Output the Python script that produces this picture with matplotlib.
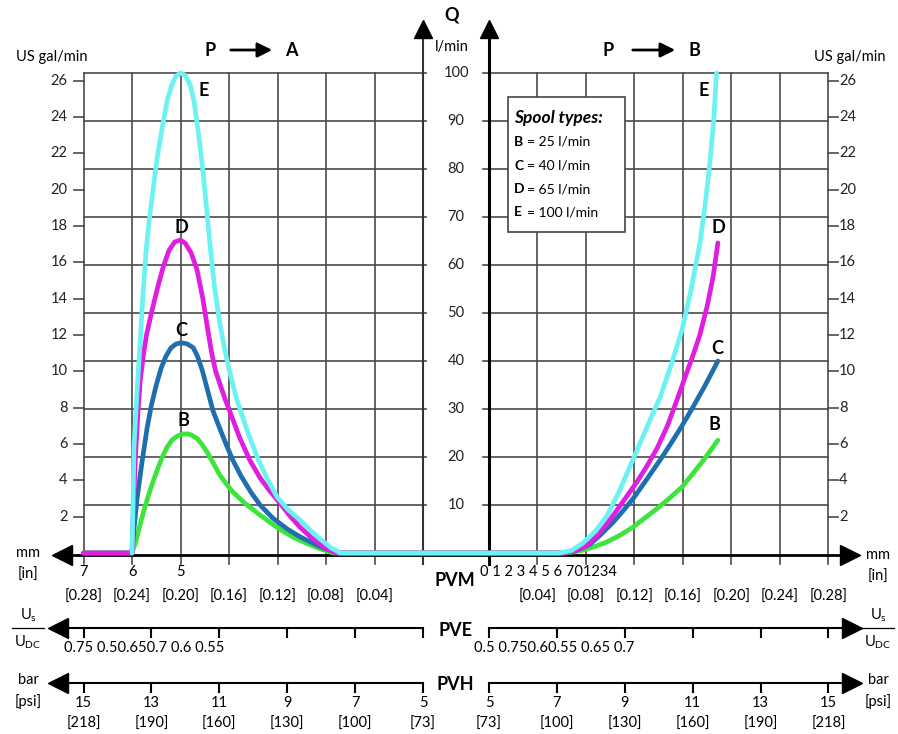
import numpy as np
import matplotlib.pyplot as plt
from matplotlib.patches import Rectangle

plt.rcParams['font.family'] = ['Lato', 'DejaVu Sans']

# ---- data: spool opening (mm) vs flow (l/min) ----
# P -> A side (left), mm from 7 towards 0
e_left_mm = [6.0, 5.98, 5.96, 5.9, 5.84, 5.78, 5.71, 5.65, 5.59, 5.48, 5.36, 5.27, 5.18, 5.1, 5.0,
             4.9, 4.8, 4.72, 4.66, 4.6, 4.54, 4.45, 4.38, 4.3, 4.2, 4.1, 4.0, 3.85, 3.63,
             3.4, 3.2, 3.01, 2.78, 2.54, 2.33, 2.12, 1.9, 1.71]
e_left_q = [0, 10, 22, 33, 42.6, 53, 63, 69, 73.7, 82.5, 89.6, 94.5, 97.5, 99.3, 100,
            99.5, 97.5, 94, 89.6, 85, 79.8, 70.5, 63, 55.5, 48.5, 43, 38.3, 32.3, 25.6,
            19.5, 15.2, 11.7, 9, 6.9, 4.8, 2.9, 1.1, 0]
d_left_mm = [7.0, 6.0, 5.97, 5.93, 5.88, 5.83, 5.77, 5.7, 5.6, 5.48, 5.36, 5.24, 5.12, 5.0,
             4.9, 4.78, 4.66, 4.54, 4.43, 4.36, 4.28, 4.18, 4.08, 3.98, 3.78, 3.57, 3.35,
             3.15, 2.95, 2.75, 2.54, 2.3, 2.05, 1.8]
d_left_q = [0, 0, 10, 20, 29, 36, 41, 45.5, 50, 55, 59.5, 63, 64.8, 65.2,
            64.5, 62.5, 59, 53, 46, 41.8, 38, 35, 32, 29.4, 24, 19.3, 15.5,
            12.8, 10.4, 7.8, 5.4, 3.2, 1.2, 0]
c_left_mm = [7.0, 6.0, 5.96, 5.9, 5.8, 5.69, 5.6, 5.5, 5.4, 5.3, 5.2, 5.1, 5.0, 4.87, 4.74,
             4.65, 4.55, 4.45, 4.33, 4.2, 4.05, 3.92, 3.75, 3.55, 3.36, 3.1, 2.8, 2.54,
             2.3, 2.05, 1.75]
c_left_q = [0, 0, 5, 11, 18.5, 26, 30.8, 35, 38.5, 41, 42.7, 43.5, 43.8, 43.6, 42.8,
            41, 38, 34.2, 29.6, 26.2, 22.4, 19.3, 16, 12.7, 10, 7.3, 5, 3.4,
            2.2, 1, 0]
b_left_mm = [7.0, 6.0, 5.92, 5.85, 5.77, 5.68, 5.58, 5.48, 5.38, 5.28, 5.18, 5.06, 4.95, 4.85,
             4.78, 4.65, 4.55, 4.45, 4.35, 4.2, 4.05, 3.92, 3.7, 3.5, 3.36, 3.1, 2.9, 2.68,
             2.4, 2.1, 1.85]
b_left_q = [0, 0, 2.5, 5.3, 8.3, 11.4, 14.5, 17.3, 19.9, 22, 23.5, 24.4, 24.8, 24.8,
            24.6, 23.8, 22.5, 21, 19.2, 16.4, 14.3, 12.7, 10.6, 9, 7.9, 6, 4.6, 3.3,
            2, 0.8, 0]

# P -> B side (right), mm from 0 upwards
e_right_mm = [1.45, 1.7, 1.94, 2.2, 2.43, 2.67, 2.91, 3.12, 3.32, 3.53, 3.77, 3.98, 4.17, 4.35,
              4.45, 4.52, 4.58, 4.64, 4.69]
e_right_q = [0, 0.5, 2.1, 4.6, 7.7, 12.5, 18.1, 23, 27.7, 32.5, 39.6, 46.5, 55, 64.6,
             72, 78, 84, 91, 100]
d_right_mm = [1.5, 1.75, 2.02, 2.3, 2.5, 2.7, 3.05, 3.25, 3.46, 3.68, 3.88, 4.05, 4.2, 4.35,
              4.5, 4.62, 4.72]
d_right_q = [0, 0.4, 1.5, 4.5, 7, 9.8, 14.8, 18, 21.7, 26.5, 32, 36.8, 41, 45.5,
             51.5, 57.5, 64.6]
c_right_mm = [1.55, 1.8, 2.08, 2.3, 2.55, 2.75, 2.97, 3.25, 3.53, 3.75, 3.98, 4.2, 4.45, 4.72]
c_right_q = [0, 0.5, 1.8, 3.8, 6.3, 8.6, 11.3, 15.3, 19.4, 22.8, 26.5, 30.3, 34.8, 40]
b_right_mm = [1.6, 1.9, 2.2, 2.43, 2.7, 2.97, 3.2, 3.46, 3.72, 3.98, 4.2, 4.45, 4.72]
b_right_q = [0, 0.5, 1.4, 2.3, 3.7, 5.4, 7.2, 9.2, 11.4, 13.75, 16.5, 19.7, 23.5]

spools = ['B', 'C', 'D', 'E']
spool_flow = ['25', '40', '65', '100']
colors = ['#3ce43c', '#1f6fae', '#e01ee0', '#6cf2f2']

# ---- axis labels ----
gal_ticks = list(range(2, 27, 2))
lmin_ticks = list(range(10, 101, 10))
mm_left_labels = ['7', '6', '5']
inch_left = ['[0.28]', '[0.24]', '[0.20]', '[0.16]', '[0.12]', '[0.08]', '[0.04]']
inch_right = ['[0.04]', '[0.08]', '[0.12]', '[0.16]', '[0.20]', '[0.24]', '[0.28]']
pve_left_text = '0.75 0.50.650.7 0.6 0.55'
pve_right_text = '0.5 0.750.60.55 0.65 0.7'
mm_right_text = '0 1 2 3 4 5 6 701234'
bar_left = ['15', '13', '11', '9', '7', '5']
psi_left = ['[218]', '[190]', '[160]', '[130]', '[100]', '[73]']
bar_right = ['5', '7', '9', '11', '13', '15']
psi_right = ['[73]', '[100]', '[130]', '[160]', '[190]', '[218]']

# ---- geometry ----
W, H = 898, 734
X0, SX = 456.0, 48.5      # pixel of centre, pixels per mm
Y0, SY = 553.0, 4.8       # pixel of Q=0, pixels per l/min
GAP = 0.68                # half gap between the two Q axes, in mm


def left_u(mm):
    return -(np.asarray(mm, dtype=float) + GAP)


def right_u(mm):
    return np.asarray(mm, dtype=float) + GAP


def px(x, y):
    return (x - X0) / SX, (Y0 - y) / SY


fig = plt.figure(figsize=(W / 100, H / 100), dpi=100)
ax = fig.add_axes([0, 0, 1, 1])
ax.set_xlim(-X0 / SX, (W - X0) / SX)
ax.set_ylim((Y0 - H) / SY, Y0 / SY)
ax.axis('off')

GRID = '#4a4a4a'
AX0 = -0.5
tick_len = 9 / SY

# grid
for m in range(1, 8):
    ax.plot([left_u(m)] * 2, [AX0 - tick_len, 100], color=GRID, lw=1.2, zorder=1)
    ax.plot([right_u(m)] * 2, [AX0 - tick_len, 100], color=GRID, lw=1.2, zorder=1)
for q in lmin_ticks:
    ax.plot([left_u(7), left_u(0) + 0.06], [q, q], color=GRID, lw=1.2, zorder=1)
    ax.plot([right_u(0) - 0.12, right_u(7)], [q, q], color=GRID, lw=1.2, zorder=1)

# central Q axes with arrows
top_q = px(0, 36)[1]
ax.plot([left_u(0)] * 2, [AX0 - tick_len, top_q], color='#333333', lw=1.5, zorder=2)
ax.plot([right_u(0)] * 2, [AX0 - tick_len, top_q], color='black', lw=2.2, zorder=2)
ax.plot([left_u(0), right_u(0)], [top_q + 1.5] * 2, ls='none', marker='^', ms=13,
        color='black', zorder=3)

# x axis with arrows both ends
xl, _ = px(62, 0)
xr, _ = px(850, 0)
ax.plot([xl, xr], [AX0, AX0], color='black', lw=2, zorder=2)
ax.plot([xl], [AX0], marker='<', ms=14, color='black', zorder=3)
ax.plot([xr], [AX0], marker='>', ms=14, color='black', zorder=3)

# gal/min ticks (1 US gal = 3.785 l)
for g in gal_ticks:
    q = g * 3.785
    ax.plot([left_u(7) - 0.2, left_u(7)], [q, q], color=GRID, lw=1.2)
    ax.plot([right_u(7), right_u(7) + 0.2], [q, q], color=GRID, lw=1.2)
    ax.text(left_u(7) - 0.33, q, str(g), ha='right', va='center', fontsize=10.5, color='#222')
    ax.text(right_u(7) + 0.22, q, str(g), ha='left', va='center', fontsize=10.5, color='#222')
for q in lmin_ticks:
    ax.text(0, q, str(q), ha='center', va='center', fontsize=10.5, color='#222',
            bbox=dict(fc='white', ec='none', pad=1))

# curves
lefts = [(b_left_mm, b_left_q), (c_left_mm, c_left_q), (d_left_mm, d_left_q), (e_left_mm, e_left_q)]
rights = [(b_right_mm, b_right_q), (c_right_mm, c_right_q), (d_right_mm, d_right_q),
          (e_right_mm, e_right_q)]
for (lm, lq), (rm, rq), col in zip(lefts, rights, colors):
    x = np.concatenate([left_u(lm), right_u(rm)])
    y = np.concatenate([lq, rq])
    ax.plot(x, y, color=col, lw=3.4, solid_capstyle='round', solid_joinstyle='round', zorder=4)

# curve letters
bold = dict(fontsize=13, fontweight='bold', ha='center', va='center', zorder=5)
for s, (x, y) in zip(spools, [(183, 420), (181, 330), (181, 228), (204, 90)]):
    ax.text(*px(x, y), s, **bold)
for s, (x, y) in zip(spools, [(714, 425), (717, 348), (718, 228), (704, 90)]):
    ax.text(*px(x, y), s, **bold)

# titles
ax.text(*px(452, 15), 'Q', fontsize=13, fontweight='bold', ha='center', va='center')
ax.text(*px(452, 47), 'l/min', fontsize=10.5, ha='center', va='center')
ax.text(*px(52, 57), 'US gal/min', fontsize=10.5, ha='center', va='center')
ax.text(*px(850, 57), 'US gal/min', fontsize=10.5, ha='center', va='center')
for xp, xa, xb, letter in [(210, 228, 275, 'A'), (608, 630, 678, 'B')]:
    ax.text(*px(xp, 50), 'P', fontsize=13, fontweight='bold', ha='center', va='center')
    ax.annotate('', xy=px(xb, 50), xytext=px(xa, 50),
                arrowprops=dict(arrowstyle='-|>', color='black', lw=2, mutation_scale=22))
    ax.text(*px(xb + 16, 50), letter, fontsize=13, fontweight='bold', ha='center', va='center')

# legend box
x0, y0 = px(508, 232)
x1, y1 = px(625, 97)
ax.add_patch(Rectangle((x0, y0), x1 - x0, y1 - y0, fc='white', ec='#444', lw=1.2, zorder=6))
ax.text(*px(514, 118), 'Spool types:', fontsize=12.5, fontweight='bold', fontstyle='italic',
        ha='left', va='center', zorder=7)
for i, (s, f) in enumerate(zip(spools, spool_flow)):
    yy = 142 + i * 23.5
    ax.text(*px(514, yy), s, fontsize=10, fontweight='bold', ha='left', va='center', zorder=7)
    ax.text(*px(527, yy), '= ' + f + ' l/min', fontsize=10, ha='left', va='center', zorder=7)

# PVM scale labels
for m, lab in zip([7, 6, 5], mm_left_labels):
    ax.text(left_u(m), px(0, 572)[1], lab, fontsize=10.5, ha='center', va='center')
ax.text(*px(480, 572), mm_right_text, fontsize=10.5, ha='left', va='center')
for m, lab in zip(range(7, 0, -1), inch_left):
    ax.text(left_u(m), px(0, 597)[1], lab, fontsize=10.5, ha='center', va='center')
for m, lab in zip(range(1, 8), inch_right):
    ax.text(right_u(m), px(0, 597)[1], lab, fontsize=10.5, ha='center', va='center')
ax.text(*px(28, 553), 'mm', fontsize=10.5, ha='center', va='center')
ax.text(*px(28, 575), '[in]', fontsize=10.5, ha='center', va='center')
ax.text(*px(878, 555), 'mm', fontsize=10.5, ha='center', va='center')
ax.text(*px(878, 577), '[in]', fontsize=10.5, ha='center', va='center')

# PVE and PVH scales
scale_mm = [7, 5.6, 4.2, 2.8, 1.4, 0]
for yline in [628, 683]:
    q = px(0, yline)[1]
    ax.plot([px(62, 0)[0], left_u(0)], [q, q], color='black', lw=1.5)
    ax.plot([right_u(0), px(850, 0)[0]], [q, q], color='black', lw=1.5)
    ax.plot([px(58, 0)[0]], [q], marker='<', ms=14, color='black')
    ax.plot([px(852, 0)[0]], [q], marker='>', ms=14, color='black')
    for m in scale_mm:
        ax.plot([left_u(m)] * 2, [q, q - tick_len], color='black', lw=1.5)
        ax.plot([right_u(m)] * 2, [q, q - tick_len], color='black', lw=1.5)
ax.text(*px(64, 648), pve_left_text, fontsize=10.5, ha='left', va='center')
ax.text(*px(474, 648), pve_right_text, fontsize=10.5, ha='left', va='center')
for m, b, p in zip(scale_mm, bar_left, psi_left):
    ax.text(left_u(m), px(0, 703)[1], b, fontsize=10.5, ha='center', va='center')
    ax.text(left_u(m), px(0, 724)[1], p, fontsize=10.5, ha='center', va='center')
for m, b, p in zip(scale_mm[::-1], bar_right, psi_right):
    ax.text(right_u(m), px(0, 703)[1], b, fontsize=10.5, ha='center', va='center')
    ax.text(right_u(m), px(0, 724)[1], p, fontsize=10.5, ha='center', va='center')

for lab, yy in [('PVM', 580), ('PVE', 630), ('PVH', 685)]:
    ax.text(*px(455, yy), lab, fontsize=13, fontweight='bold', ha='center', va='center',
            bbox=dict(fc='white', ec='none', pad=1))

# unit labels for PVE / PVH
for xc in [28, 878]:
    ax.text(*px(xc, 615), r'$\mathregular{U_s}$', fontsize=10.5, ha='center', va='center')
    ax.plot([px(xc - 16, 0)[0], px(xc + 16, 0)[0]], [px(0, 628)[1]] * 2, color='black', lw=0.9)
    ax.text(*px(xc, 642), r'$\mathregular{U_{DC}}$', fontsize=10.5, ha='center', va='center')
ax.text(*px(28, 680), 'bar', fontsize=10.5, ha='center', va='center')
ax.text(*px(28, 702), '[psi]', fontsize=10.5, ha='center', va='center')
ax.text(*px(878, 680), 'bar', fontsize=10.5, ha='center', va='center')
ax.text(*px(878, 702), '[psi]', fontsize=10.5, ha='center', va='center')

fig.savefig('out.png', dpi=100, facecolor='white')
